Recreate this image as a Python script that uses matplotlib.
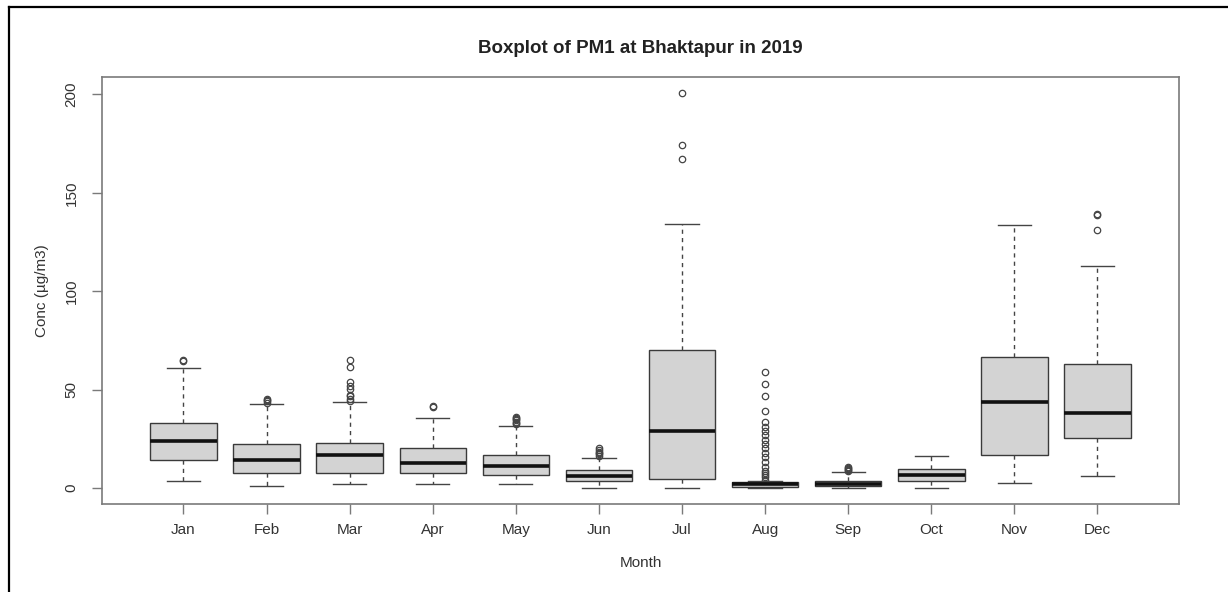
import matplotlib
matplotlib.use('Agg')
import matplotlib.pyplot as plt
from matplotlib.lines import Line2D

plt.rcParams['font.family'] = ['Liberation Sans', 'DejaVu Sans']

# monthly box statistics (ug/m3)
months = ['Jan', 'Feb', 'Mar', 'Apr', 'May', 'Jun', 'Jul', 'Aug', 'Sep', 'Oct', 'Nov', 'Dec']
whislo = [3.9, 1.0, 2.0, 2.0, 2.0, 0.0, 0.0, 0.2, 0.0, 0.0, 2.9, 6.1]
q1 = [14.2, 7.8, 7.8, 7.8, 6.9, 3.6, 4.9, 0.8, 1.0, 3.9, 16.8, 25.5]
med = [24.2, 14.2, 16.8, 13.0, 11.3, 6.3, 28.8, 2.0, 2.1, 6.6, 43.8, 38.2]
q3 = [33.3, 22.3, 23.2, 20.3, 17.1, 9.1, 70.0, 3.0, 3.7, 10.0, 66.7, 62.9]
whishi = [60.8, 42.6, 43.8, 35.7, 31.5, 15.2, 134.4, 3.6, 8.0, 16.2, 133.7, 112.7]
fliers = [
    [64.6, 65.2],
    [43.5, 44.3, 44.8, 45.3],
    [65.3, 61.3, 54.0, 51.8, 50.2, 47.5, 46.7, 45.3, 44.5],
    [41.0, 41.5],
    [32.5, 33.2, 33.8, 34.4, 35.0, 35.6, 36.2],
    [16.5, 17.2, 17.9, 18.6, 19.5, 20.5],
    [167.2, 174.5, 200.8],
    [59.0, 53.1, 46.7, 39.2, 33.5, 31.1, 28.9, 26.9, 24.7, 22.7, 20.5, 17.9,
     15.6, 13.4, 10.8, 8.8, 7.5, 6.6, 5.5, 4.4],
    [8.6, 9.2, 9.8, 10.4, 11.0],
    [],
    [],
    [131.0, 138.6, 139.2],
]

stats = []
for i, m in enumerate(months):
    stats.append(dict(label=m, whislo=whislo[i], q1=q1[i], med=med[i],
                      q3=q3[i], whishi=whishi[i], fliers=fliers[i]))

fig = plt.figure(figsize=(12.28, 5.92), dpi=100)
ax = fig.add_axes([0.0831, 0.1486, 0.960 - 0.0831, 0.870 - 0.1486])

ax.bxp(stats, positions=range(1, 13), widths=0.8, patch_artist=True,
       boxprops=dict(facecolor='#d3d3d3', edgecolor='#3a3a3a', linewidth=1.0),
       medianprops=dict(color='#111111', linewidth=2.6),
       whiskerprops=dict(color='#444444', linewidth=1.0, linestyle=(0, (3, 3))),
       capprops=dict(color='#444444', linewidth=1.0),
       capwidths=0.4,
       flierprops=dict(marker='o', markersize=4.6, markerfacecolor='none',
                       markeredgecolor='#444444', markeredgewidth=0.9))

# R style axis range: 4% padding
lo = min(whislo)
hi = max(max(f) if f else 0 for f in fliers)
pad = (hi - lo) * 0.04
ax.set_ylim(lo - pad, hi + pad)
ax.set_xlim(0.5 - 0.48, 12.5 + 0.48)

ax.set_yticks([0, 50, 100, 150, 200])
ax.set_yticklabels(['0', '50', '100', '150', '200'], rotation=90, va='center')
ax.set_xticks(range(1, 13))
ax.set_xticklabels(months)

for s in ax.spines.values():
    s.set_color('#7a7a7a')
    s.set_linewidth(1.2)
ax.tick_params(axis='both', direction='out', length=7, width=1.0, color='#7a7a7a',
               labelsize=11, labelcolor='#333333')
ax.tick_params(axis='x', pad=7)
ax.tick_params(axis='y', pad=10)

ax.set_title('Boxplot of PM1 at Bhaktapur in 2019', fontsize=13.5,
             fontweight='bold', color='#222222', pad=17)
ax.set_xlabel('Month', fontsize=11, color='#333333', labelpad=13)
ax.set_ylabel('Conc (µg/m3)', fontsize=11, color='#333333', labelpad=11)

# screenshot frame on the left and top
fig.add_artist(Line2D([9 / 1228, 9 / 1228], [0, 1 - 7 / 592], transform=fig.transFigure,
                      color='black', linewidth=1.6))
fig.add_artist(Line2D([9 / 1228, 1], [1 - 7 / 592, 1 - 7 / 592], transform=fig.transFigure,
                      color='black', linewidth=1.6))

fig.savefig('out.png', dpi=100)
